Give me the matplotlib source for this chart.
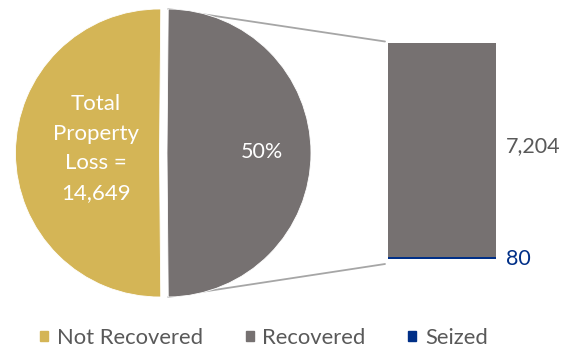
import matplotlib
matplotlib.use("Agg")
import matplotlib.pyplot as plt
from matplotlib.patches import Patch, ConnectionPatch
import numpy as np

plt.rcParams['font.family'] = ['Lato', 'DejaVu Sans']

# Data
categories = ["Not Recovered", "Recovered", "Seized"]
total_loss = 14649
recovered_parts = [7204, 80]          # recovered (returned), seized
recovered_total = sum(recovered_parts)
not_recovered = total_loss - recovered_total
pie_values = [not_recovered, recovered_total]

# Styling
GOLD = "#D4B556"
GREY = "#767171"
NAVY = "#002F87"
TEXT = "#595959"
LINE = "#A6A6A6"

W, H = 574, 351
fig = plt.figure(figsize=(W / 100, H / 100), dpi=100)

# Pie axes: radius 1 maps to 144 px
R = 144.0
cx, cy = 159.5, 153.0
ax_l, ax_r, ax_t, ax_b = 0.0, 340.0, 0.0, 306.0
pie_ax = fig.add_axes([ax_l / W, (H - ax_b) / H, (ax_r - ax_l) / W, (ax_b - ax_t) / H])

# Keep the gold/grey split vertical: centre the larger slice on the left
gold_deg = 360.0 * pie_values[0] / total_loss
wedges, _ = pie_ax.pie(
    pie_values,
    colors=[GOLD, GREY],
    explode=[0, 0.052],
    startangle=90 - (gold_deg - 180) / 2,
    counterclock=True,
    wedgeprops=dict(edgecolor="white", linewidth=0.6),
)
pie_ax.set_xlim((ax_l - cx) / R, (ax_r - cx) / R)
pie_ax.set_ylim((cy - ax_b) / R, (cy - ax_t) / R)
pie_ax.set_aspect("auto")
pie_ax.axis("off")

# Labels inside the wedges
def wedge_point(w, frac):
    ang = np.deg2rad((w.theta1 + w.theta2) / 2)
    return w.center[0] + frac * w.r * np.cos(ang), w.center[1] + frac * w.r * np.sin(ang)

x0, y0 = wedge_point(wedges[0], 0.44)
pie_ax.text(x0, y0 + 0.03, f"Total\nProperty\nLoss =\n{total_loss:,}", color="white",
            fontsize=16, ha="center", va="center", linespacing=1.6)
x1, y1 = wedge_point(wedges[1], 0.66)
pct = 100 * pie_values[1] / total_loss
pie_ax.text(x1, y1 + 0.01, f"{pct:.0f}%", color="white", fontsize=15.5, ha="center", va="center")

# Stacked bar for the recovered breakdown
bx0, bx1, by0, by1 = 388.0, 496.0, 43.0, 259.0
bar_ax = fig.add_axes([bx0 / W, (H - by1) / H, (bx1 - bx0) / W, (by1 - by0) / H])
seized = recovered_parts[1]
returned = recovered_parts[0]
bar_ax.bar([0], [seized], width=1.0, color=NAVY)
bar_ax.bar([0], [returned], bottom=[seized], width=1.0, color=GREY)
bar_ax.set_xlim(-0.5, 0.5)
bar_ax.set_ylim(0, recovered_total)
bar_ax.axis("off")

bar_ax.annotate(f"{returned:,}", xy=(0.5, seized + returned / 2), xytext=(7, 3),
                textcoords="offset points", color=TEXT, fontsize=15.5,
                ha="left", va="center", annotation_clip=False)
bar_ax.annotate(f"{seized:,}", xy=(0.5, seized / 2), xytext=(7, -1),
                textcoords="offset points", color=NAVY, fontsize=15.5,
                ha="left", va="center", annotation_clip=False)

# Connector lines from the recovered wedge to the bar
w = wedges[1]
bw, bh = bx1 - bx0, by1 - by0
for theta, yb in ((w.theta2, 1 + 1.5 / bh), (w.theta1, -5 / bh)):
    a = np.deg2rad(theta)
    p = (w.center[0] + w.r * np.cos(a), w.center[1] + w.r * np.sin(a))
    con = ConnectionPatch(xyA=p, coordsA=pie_ax.transData, xyB=(-3 / bw, yb),
                          coordsB=bar_ax.transAxes, color=LINE, linewidth=1.3, zorder=0.5)
    con.set_clip_on(False)
    pie_ax.add_artist(con)

# Legend
handles = [Patch(color=c) for c in (GOLD, GREY, NAVY)]
fig.legend(handles, categories, loc="center", bbox_to_anchor=(264 / W, 1 - 338 / H),
           ncol=3, frameon=False, fontsize=15.8, labelcolor=TEXT,
           handlelength=0.36, handleheight=0.36, handletextpad=0.4, columnspacing=1.95,
           borderpad=0.1)

fig.savefig("out.png", dpi=100)
